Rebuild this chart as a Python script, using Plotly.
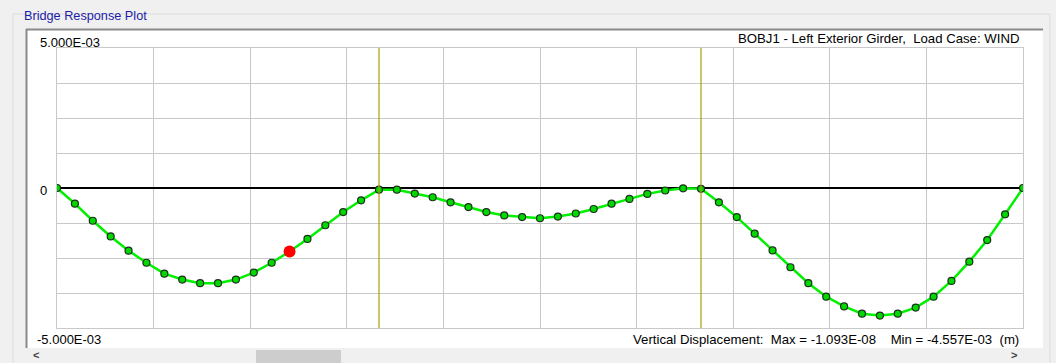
import plotly.graph_objects as go

# Bridge response plot - vertical displacement along girder (3 equal spans)

W, H = 1056, 363
L, R, T, B = 57, 1023, 48, 328   # plot area in pixels

# station index along the girder (18 segments per span)
stations = list(range(55))
supports = [18, 36]

# vertical displacement, units of 1E-03 m
span1 = [0.0, -0.56, -1.17, -1.73, -2.24, -2.67, -3.06, -3.27, -3.40, -3.40,
         -3.27, -3.02, -2.67, -2.27, -1.82, -1.33, -0.86, -0.44, -0.06]
span2 = [-0.06, -0.20, -0.33, -0.51, -0.68, -0.86, -0.98, -1.04, -1.08,
         -1.02, -0.91, -0.75, -0.56, -0.39, -0.21, -0.09, -0.01, -0.03]
span3 = [-0.51, -1.04, -1.63, -2.23, -2.83, -3.40, -3.88, -4.23, -4.49,
         -4.557, -4.49, -4.27, -3.88, -3.32, -2.63, -1.86, -0.94, 0.0]
disp = [v * 1e-3 for v in span1 + span2 + span3]

selected = 13   # highlighted (red) station

title_txt = "BOBJ1 - Left Exterior Girder,  Load Case: WIND"
foot_txt = "Vertical Displacement:  Max = -1.093E-08    Min = -4.557E-03  (m)"
y_labels = ["5.000E-03", "0", "-5.000E-03"]


def px(x):
    return (x - L) / (R - L)


def py(y):
    return (B - y) / (B - T)


fig = go.Figure()

fig.add_trace(go.Scatter(
    x=stations, y=disp, mode="lines+markers",
    line=dict(color="#00f000", width=2.5),
    marker=dict(size=7, color="#00d800", line=dict(color="#1a301a", width=1.2)),
    hoverinfo="skip", showlegend=False))

fig.add_trace(go.Scatter(
    x=[stations[selected]], y=[disp[selected]], mode="markers",
    marker=dict(size=12, color="#ff0000"),
    hoverinfo="skip", showlegend=False))

shapes = []
# group box outline
shapes.append(dict(type="rect", xref="paper", yref="paper", layer="below",
                   x0=px(13), x1=px(1050), y0=py(370), y1=py(14),
                   line=dict(color="#dcdcdc", width=1), fillcolor="#f0f0f0"))
# white panel
shapes.append(dict(type="rect", xref="paper", yref="paper", layer="below",
                   x0=px(26), x1=px(1043), y0=py(348), y1=py(29),
                   line=dict(width=0), fillcolor="white"))
# sunken edges top/left
shapes.append(dict(type="line", xref="paper", yref="paper",
                   x0=px(26), x1=px(1043), y0=py(29.5), y1=py(29.5),
                   line=dict(color="#8a8a8a", width=2)))
shapes.append(dict(type="line", xref="paper", yref="paper",
                   x0=px(26.5), x1=px(26.5), y0=py(348), y1=py(29),
                   line=dict(color="#8a8a8a", width=2)))
# scrollbar thumb
shapes.append(dict(type="rect", xref="paper", yref="paper",
                   x0=px(256), x1=px(341), y0=py(363), y1=py(350),
                   line=dict(width=0), fillcolor="#cdcdcd"))
# support lines
for s in supports:
    shapes.append(dict(type="line", xref="x", yref="paper", x0=s, x1=s,
                       y0=0, y1=1, line=dict(color="#a8a000", width=1.2)))

annotations = [
    dict(text="Bridge Response Plot", x=px(22), y=py(16), xanchor="left",
         yanchor="middle", font=dict(color="#1c1ca8", size=12.7)),
    dict(text=title_txt, x=px(1021), y=py(39), xanchor="right",
         yanchor="middle", font=dict(size=13.2)),
    dict(text=foot_txt, x=px(1021), y=py(339), xanchor="right",
         yanchor="middle", font=dict(size=13.2)),
    dict(text=y_labels[0], x=px(38), y=py(42), xanchor="left",
         yanchor="middle", font=dict(size=13)),
    dict(text=y_labels[1], x=px(49), y=py(190), xanchor="right",
         yanchor="middle", font=dict(size=13)),
    dict(text=y_labels[2], x=px(35), y=py(339), xanchor="left",
         yanchor="middle", font=dict(size=13)),
    dict(text="<b><</b>", x=px(36), y=py(355), xanchor="center",
         yanchor="middle", font=dict(size=11, color="#444444")),
    dict(text="<b>></b>", x=px(1014), y=py(355), xanchor="center",
         yanchor="middle", font=dict(size=11, color="#444444")),
]
for a in annotations:
    a.update(xref="paper", yref="paper", showarrow=False)

fig.update_layout(
    width=W, height=H,
    margin=dict(l=L, r=W - R, t=T, b=H - B, pad=0),
    paper_bgcolor="#f0f0f0", plot_bgcolor="white",
    font=dict(family="Liberation Sans, Arial, sans-serif", color="black"),
    shapes=shapes, annotations=annotations,
    xaxis=dict(range=[0, 54], tick0=0, dtick=5.4, showgrid=True,
               gridcolor="#c8c8c8", gridwidth=1, showticklabels=False,
               zeroline=False, showline=True, linecolor="#c8c8c8",
               mirror=True, ticks=""),
    yaxis=dict(range=[-5e-3, 5e-3], tick0=0, dtick=1.25e-3, showgrid=True,
               gridcolor="#c8c8c8", gridwidth=1, showticklabels=False,
               zeroline=True, zerolinecolor="black", zerolinewidth=2,
               showline=True, linecolor="#c8c8c8", mirror=True, ticks=""),
)

# remove the default page margin so the figure sits at the window origin
fig.write_html("out.html", config={"displayModeBar": False},
               post_script="document.body.style.margin='0';"
               "document.body.style.background='#f0f0f0';")
